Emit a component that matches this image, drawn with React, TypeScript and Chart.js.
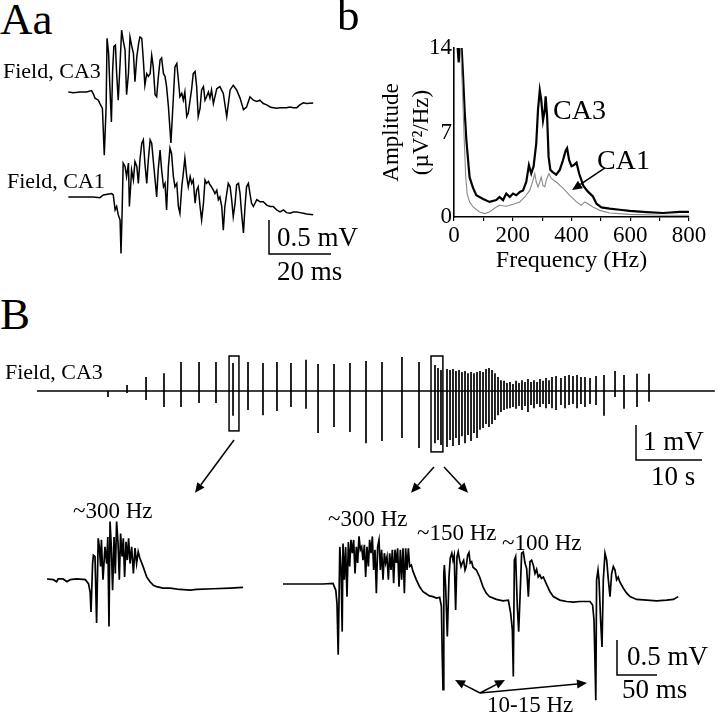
import React, { useEffect, useRef } from 'react';
import { Chart, registerables } from 'chart.js';
Chart.register(...registerables);

const SERIF = "'Liberation Serif', 'Times New Roman', 'DejaVu Serif', serif";

// ---------- Panel Aa: field traces [time ms, mV] ----------
const aaCA3: [number, number][] = [
  [0.1,0],[1.7,-0.01],[3.9,0],[6.0,0],[7.6,0.02],[8.2,-0.03],[8.7,-0.09],[9.8,-0.12],[10.3,-0.17],[11.1,-0.24],
  [11.7,-0.93],[12.3,-0.22],[12.6,0.79],[13.1,0.57],[13.5,0.08],[14.0,-0.44],[14.4,0.32],[14.8,0.67],[15.3,0.69],[15.7,0.27],
  [16.2,-0.12],[16.8,0.42],[17.3,0.91],[17.8,0.76],[18.4,0.62],[18.9,-0.04],[19.5,0.27],[20.0,0.81],[20.5,0.69],[21.1,0.57],
  [21.6,0.15],[22.2,0.52],[22.8,0.72],[23.2,0.81],[23.8,0.79],[24.3,0.47],[24.8,0.10],[25.4,0.27],[25.9,0.23],[26.5,0.27],
  [27.0,0.54],[27.5,0.37],[28.1,-0.04],[28.6,-0.07],[29.1,0.20],[29.7,0.47],[30.2,0.50],[30.8,0.27],[31.3,0.23],[31.8,0.08],
  [32.4,-0.22],[33.2,-0.75],[34.0,-0.07],[34.5,0.37],[35.1,0.42],[35.6,0.18],[36.1,-0.07],[36.7,-0.02],[37.2,-0.12],[37.7,0.0],
  [38.3,-0.36],[38.8,-0.31],[39.9,0.05],[40.4,0.27],[41.0,0.30],[41.5,0.08],[42.0,-0.36],[42.6,-0.24],[43.1,0.03],[43.7,0.08],
  [44.2,-0.12],[44.7,-0.07],[45.3,0.0],[45.8,-0.09],[46.3,0.03],[46.9,-0.17],[48.0,0.05],[49.0,0.08],[50.1,-0.02],[51.2,-0.36],
  [52.3,0.03],[53.3,0.10],[54.4,0.03],[55.5,-0.09],[56.6,-0.26],[57.6,-0.22],[58.7,-0.07],[59.8,-0.12],[60.9,-0.14],[61.9,-0.12],
  [63.0,-0.17],[64.1,-0.19],[65.2,-0.22],[66.2,-0.23],[67.3,-0.24],[68.4,-0.23],[69.5,-0.23],[70.5,-0.23],[71.6,-0.22],[72.7,-0.23],
  [73.8,-0.23],[74.8,-0.19],[75.9,-0.16],[77.0,-0.17],[79.1,-0.16]
];
const aaCA1: [number, number][] = [
  [0.1,0],[3.9,0],[8.2,0],[10.3,-0.01],[11.4,0.03],[14.1,0.05],[14.6,0.03],[15.2,-0.19],[15.7,-0.14],[16.2,-0.26],
  [16.8,-0.34],[17.1,-0.83],[17.5,-0.14],[17.8,0.50],[18.4,0.45],[18.9,0.30],[19.5,0.50],[19.8,-0.14],[20.2,0.15],[20.5,0.40],
  [21.1,0.25],[21.6,0.52],[22.2,0.45],[22.7,0.20],[23.2,0.54],[23.8,0.79],[24.3,0.84],[24.8,0.50],[25.4,0.20],[25.9,0.54],
  [26.5,0.84],[27.0,0.79],[27.5,0.54],[28.1,0.25],[28.6,0.0],[29.1,0.40],[29.7,0.69],[30.2,0.40],[30.8,0.15],[31.3,0.20],
  [31.8,-0.19],[32.4,0.45],[32.9,0.72],[33.4,0.64],[34.0,0.30],[34.5,0.15],[35.1,0.20],[35.6,-0.14],[36.1,-0.24],[36.7,0.15],
  [37.2,0.35],[37.7,0.57],[38.3,0.30],[38.8,0.15],[39.4,0.30],[39.9,0.20],[40.4,0.25],[41.0,-0.09],[41.5,0.10],[42.0,0.15],
  [42.6,-0.14],[43.1,-0.34],[43.7,-0.09],[44.2,0.25],[44.7,0.20],[45.3,0.23],[45.8,0.18],[46.3,0.15],[46.9,0.10],[47.4,0.05],
  [48.0,0.10],[48.5,-0.04],[49.0,0.0],[49.6,-0.14],[50.1,-0.49],[50.6,-0.14],[51.2,0.05],[51.7,0.20],[52.3,0.15],[52.8,-0.04],
  [53.3,-0.29],[53.9,-0.09],[54.4,0.18],[55.0,0.20],[55.5,0.05],[56.0,-0.24],[56.6,-0.53],[57.1,-0.14],[57.6,0.15],[58.2,0.20],
  [58.7,0.05],[59.2,-0.09],[59.8,-0.14],[60.9,-0.04],[61.9,-0.07],[63.0,-0.07],[64.1,-0.12],[65.2,-0.14],[66.2,-0.14],[67.3,-0.19],
  [68.4,-0.22],[69.5,-0.19],[70.5,-0.23],[71.6,-0.24],[72.7,-0.22],[73.8,-0.22],[74.8,-0.23],[75.9,-0.24],[77.0,-0.25],[79.1,-0.26]
];
const aaScaleBar = { ms: 20, mV: 0.5 };

// ---------- Panel b: amplitude spectra [Hz, uV^2/Hz] ----------
const freqTickLabels = [0, 200, 400, 600, 800];
const ampTickLabels = [0, 7, 14];
const ca3Spectrum: [number, number][] = [
  [11,14.5],[16,12.8],[20,14.5],[25,14.5],[31,11.6],[36,8.9],[42,6.4],[48,4.7],[53,3.3],[65,2.4],[76,1.8],[99,1.5],
  [121,1.25],[144,1.4],[155,1.66],[167,1.4],[178,1.94],[190,1.66],[201,1.94],[212,1.8],[224,2.08],[235,2.2],[246,2.9],
  [255,4.3],[263,3.6],[271,4.2],[280,6.1],[286,8.9],[292,10.5],[297,9.7],[303,8.0],[309,8.9],[312,10.0],[317,8.3],
  [322,5.0],[328,3.9],[337,3.7],[348,3.5],[360,3.9],[371,4.7],[380,5.5],[385,5.7],[392,4.7],[400,4.2],[408,4.3],
  [417,4.5],[426,3.6],[440,2.6],[456,2.1],[473,1.7],[485,1.1],[502,0.8],[530,0.7],[564,0.6],[598,0.5],[655,0.4],
  [712,0.33],[768,0.42],[800,0.42]
];
const ca1Spectrum: [number, number][] = [
  [11,14.5],[23,13.9],[28,11],[34,6.9],[40,3.3],[45,1.9],[53,1.25],[65,0.83],[87,0.42],[104,0.28],[121,0.42],[144,0.83],
  [155,0.97],[178,0.89],[201,1.05],[224,1.25],[241,1.66],[258,2.2],[269,3.05],[275,3.6],[280,2.9],[286,2.5],[292,2.9],
  [297,3.3],[303,2.6],[309,2.5],[314,3.05],[323,3.6],[331,3.2],[348,2.9],[371,2.4],[394,1.8],[417,1.25],[433,0.97],
  [445,1.25],[456,1.1],[473,0.83],[496,0.55],[530,0.33],[598,0.22],[712,0.14],[800,0.14]
];

// ---------- Panel B: long CA3 field record, events [time s, peak mV, trough mV] ----------
const longSpikes: [number, number, number][] = [
  [10.76,0,-0.17],[13.64,0.17,-0.06],[16.52,0.40,-0.26],[19.24,0.51,-0.46],[21.82,0.83,-0.46],[24.55,0.83,-0.34],
  [27.12,0.83,-0.34],[29.70,0.80,-0.71],[31.97,0.83,-0.54],[34.24,0.80,-0.69],[36.36,0.83,-0.57],[38.48,0.80,-0.46],
  [40.76,0.89,-0.51],[42.58,0.77,-1.20],[45.00,0.77,-1.03],[47.42,0.80,-1.17],[49.85,0.86,-1.49],[52.27,0.83,-1.43],
  [55.30,0.97,-1.34],[57.88,0.83,-1.63],[60.30,0.74,-1.49],[60.76,0.66,-1.40],[61.21,0.60,-1.54],[62.12,0.63,-1.60],
  [62.58,0.60,-1.40],[63.03,0.63,-1.57],[63.48,0.57,-1.34],[63.94,0.60,-1.54],[64.39,0.54,-1.29],[64.85,0.57,-1.49],
  [65.30,0.51,-1.26],[65.76,0.54,-1.43],[66.21,0.51,-1.20],[66.67,0.54,-1.34],[67.12,0.57,-1.11],[67.58,0.54,-1.06],
  [68.03,0.63,-0.94],[68.48,0.66,-1.03],[68.94,0.60,-0.94],[69.39,0.51,-0.83],[69.85,0.40,-0.69],[70.30,0.31,-0.60],
  [70.76,0.29,-0.54],[71.21,0.23,-0.51],[71.67,0.26,-0.49],[72.12,0.20,-0.46],[72.58,0.29,-0.51],[73.03,0.23,-0.43],
  [73.48,0.31,-0.54],[73.94,0.26,-0.43],[74.39,0.34,-0.60],[74.85,0.26,-0.40],[75.30,0.31,-0.49],[75.76,0.26,-0.37],
  [76.21,0.34,-0.46],[76.67,0.29,-0.37],[77.12,0.37,-0.49],[77.58,0.31,-0.37],[78.03,0.40,-0.49],[78.64,0.43,-0.54],
  [79.39,0.37,-0.40],[80.00,0.43,-0.49],[80.61,0.46,-0.40],[81.21,0.43,-0.37],[81.82,0.46,-0.49],[82.42,0.40,-0.37],
  [83.03,0.40,-0.46],[83.79,0.37,-0.37],[84.70,0.43,-0.40],[85.91,0.46,-0.71],[87.58,0.57,-0.17],[88.94,0.46,-0.51],
  [90.91,0.49,-0.46],[92.73,0.49,-0.31]
];
const longRecordEnd = 102.7; // s
const longScaleBar = { s: 10, mV: 1 };

// ---------- Panel B insets [time ms, mV] ----------
const insetFirst: [number, number][] = [
  [0,0],[8,-0.01],[12,-0.04],[14,0],[20,0],[25,-0.04],[29,-0.01],[37,0],[48,-0.01],[52,-0.07],[54,-0.2],[55,-0.47],
  [57,0.22],[58,0.34],[60,0.32],[62,-0.63],[64,0.58],[65.4,0.46],[67,0.18],[68,0.56],[70,-0.01],[72.5,0.46],[74.6,0.22],
  [76,0.60],[77.5,-0.68],[78.8,0.82],[80.4,0.46],[82,-0.16],[83.8,0.60],[85.4,0.08],[87,0.82],[88.8,0.51],[90.4,-0.01],
  [92,0.65],[93.8,0.32],[95.4,0.58],[97,0.03],[98.8,0.53],[100.4,0.27],[102,0.58],[103.8,0.22],[105.8,0.46],[108,0.08],
  [110,0.44],[112,0.22],[114,0.39],[116,0.30],[120,0.18],[124.6,0.03],[128.8,-0.04],[133,-0.09],[137,-0.11],[145,-0.13],
  [154,-0.13],[166,-0.15],[179,-0.16],[187,-0.15],[208,-0.14],[229,-0.13],[245,-0.12]
];
const insetSecond: [number, number][] = [
  [0,0],[16.7,0],[33,0],[50,0],[62.5,0.01],[66,-0.09],[67.5,-0.28],[69,-1.01],[71,0.53],[72.5,0.25],[74,-0.68],[75,0.58],
  [76.7,0.06],[78.3,0.53],[80,-0.18],[81.7,0.60],[83.3,0.25],[85,0.63],[86.7,0.44],[88.3,0.63],[90,0.15],[91.7,0.53],
  [93.3,0.30],[95,0.68],[96.7,0.49],[98.3,0.53],[100,0.34],[101.7,0.56],[103.3,0.10],[105,0.53],[106.7,0.25],[108.3,0.63],
  [110,0.44],[111.7,0.68],[113.3,0.2],[115,0.49],[116.7,-0.13],[118.3,0.53],[120,0.63],[121.7,0.2],[123.3,0.49],[125,0.06],
  [126.7,0.44],[128.3,0.30],[130,0.39],[131.7,0.06],[133.3,0.44],[135,0.2],[136.7,0.49],[138.3,0.01],[140,0.49],[141.7,0.30],
  [143.3,0.51],[145,-0.04],[146.7,0.49],[148.3,0.06],[150,0.51],[151.7,-0.13],[153.3,0.51],[155,0.2],[156.7,0.51],[158.3,0.25],
  [160.4,0.27],[162.5,0.18],[166.7,0.06],[170.8,-0.04],[175,-0.11],[179,-0.14],[183,-0.17],[187.5,-0.18],[191.7,-0.2],
  [195.8,-0.19],[198,-0.32],[199,-0.99],[200,-1.51],[201,0.15],[201.7,0.27],[203.3,-0.04],[205.4,-0.75],[207.5,0.10],
  [209,0.37],[211,0.44],[212.5,0.34],[214,0.41],[215.8,-0.37],[217.5,0.39],[219,0.46],[220.8,0.34],[222.5,0.25],[224,0.30],
  [225.8,0.34],[227.5,0.2],[229,0.25],[230.8,0.41],[232.5,0.45],[234,0.30],[235.8,0.32],[237.5,0.24],[241.7,0.2],[245.8,0.1],
  [250,-0.04],[254,-0.13],[258,-0.18],[266.7,-0.22],[275,-0.24],[281.7,-0.23],[284.6,-0.42],[286.7,-0.66],[287.9,-1.32],
  [289.2,0.34],[290.8,0.39],[292.9,-0.32],[294.6,-0.68],[296.3,-0.18],[298.3,0.44],[300.4,0.46],[302.5,0.30],[304.6,0.22],
  [306.7,-0.18],[308.75,0.32],[310.8,0.34],[312.9,0.27],[315,0.15],[317,0.21],[319,0.10],[321,0.13],[323,0.08],[325.4,0.10],
  [329.6,-0.01],[333.75,-0.11],[337.9,-0.18],[346,-0.23],[354.6,-0.25],[363,-0.26],[371,-0.25],[379.6,-0.25],[383.75,-0.25],
  [387,-0.3],[388.75,-0.51],[390,-1.13],[391,-1.66],[392,0.06],[393.75,0.2],[395,0.06],[397,-0.51],[398.75,-0.9],[400.4,0.06],
  [402.5,0.44],[404.6,0.34],[406.7,0.06],[408.75,-0.18],[410.8,0.15],[412.9,0.25],[415,0.2],[417,0.06],[419,0.1],[421,0.03],
  [425.4,-0.06],[429.6,-0.13],[433.75,-0.18],[442,-0.22],[454.6,-0.23],[467,-0.24],[479.6,-0.23],[488,-0.22],[494,-0.18]
];
const insetScaleBar = { ms: 50, mV: 0.5 };

// ---------- helpers ----------
type Pt = [number, number];
const toXY = (pts: Pt[], dy = 0) => pts.map(([x, y]) => ({ x, y: y + dy }));

function lineDs(data: { x: number; y: number }[], width = 1.5, color = '#000') {
  return { data, borderColor: color, borderWidth: width, pointRadius: 0, tension: 0, fill: false, clip: false as any };
}

function scaleBarDs(x0: number, y0: number, w: number, h: number) {
  return lineDs([{ x: x0, y: y0 + h }, { x: x0, y: y0 }, { x: x0 + w, y: y0 }], 1.5);
}

type Arrow = { from: Pt; to: Pt };
type Rect = { x0: number; y0: number; x1: number; y1: number };

function annotPlugin(arrows: Arrow[], rects: Rect[]) {
  return {
    id: 'annot',
    afterDatasetsDraw(chart: any) {
      const ctx = chart.ctx;
      const sx = chart.scales.x, sy = chart.scales.y;
      ctx.save();
      ctx.strokeStyle = '#000';
      ctx.fillStyle = '#000';
      ctx.lineWidth = 1.5;
      for (const r of rects) {
        const a = sx.getPixelForValue(r.x0), b = sx.getPixelForValue(r.x1);
        const c = sy.getPixelForValue(r.y0), d = sy.getPixelForValue(r.y1);
        ctx.strokeRect(a, c, b - a, d - c);
      }
      for (const ar of arrows) {
        const x0 = sx.getPixelForValue(ar.from[0]), y0 = sy.getPixelForValue(ar.from[1]);
        const x1 = sx.getPixelForValue(ar.to[0]), y1 = sy.getPixelForValue(ar.to[1]);
        const ang = Math.atan2(y1 - y0, x1 - x0);
        const L = 10, W = 4.5;
        const bx = x1 - L * Math.cos(ang), by = y1 - L * Math.sin(ang);
        ctx.beginPath();
        ctx.moveTo(x0, y0);
        ctx.lineTo(bx, by);
        ctx.stroke();
        ctx.beginPath();
        ctx.moveTo(x1, y1);
        ctx.lineTo(bx + W * Math.sin(ang), by - W * Math.cos(ang));
        ctx.lineTo(bx - W * Math.sin(ang), by + W * Math.cos(ang));
        ctx.closePath();
        ctx.fill();
      }
      ctx.restore();
    },
  };
}

function hiddenOptions(xmin: number, xmax: number, ymin: number, ymax: number) {
  return {
    responsive: false,
    animation: false as const,
    devicePixelRatio: 1,
    events: [] as any[],
    layout: { padding: 0 },
    plugins: { legend: { display: false }, tooltip: { enabled: false } },
    scales: {
      x: { type: 'linear' as const, display: false, min: xmin, max: xmax },
      y: { type: 'linear' as const, display: false, min: ymin, max: ymax },
    },
  };
}

// ---------- chart configs ----------
function panelAaConfig() {
  const ca1Offset = -1.544;
  return {
    type: 'line' as const,
    data: {
      datasets: [
        lineDs(toXY(aaCA3), 1.5),
        lineDs(toXY(aaCA1, ca1Offset), 1.5),
        scaleBarDs(64.84, -2.382, aaScaleBar.ms, aaScaleBar.mV),
      ],
    },
    options: hiddenOptions(-2.58, 97.42, -2.912, 1.059),
  };
}

function panelBSpecConfig() {
  const f = { family: SERIF, size: 23 };
  return {
    type: 'line' as const,
    data: {
      datasets: [
        { ...lineDs(toXY(ca1Spectrum), 1.1, '#8a8a8a'), clip: 0 },
        { ...lineDs(toXY(ca3Spectrum), 2.2, '#000'), clip: 0 },
      ],
    },
    options: {
      responsive: false,
      animation: false as const,
      devicePixelRatio: 1,
      events: [] as any[],
      layout: { padding: { left: 0, top: 20, right: 31, bottom: 0 } },
      plugins: { legend: { display: false }, tooltip: { enabled: false } },
      scales: {
        x: {
          type: 'linear' as const,
          min: 0,
          max: 800,
          ticks: {
            stepSize: 100,
            autoSkip: false,
            maxRotation: 0,
            color: '#000',
            font: f,
            padding: 1,
            callback: (v: any) => (freqTickLabels.includes(Number(v)) ? String(v) : ''),
          },
          grid: { display: true, drawOnChartArea: false, drawTicks: true, tickLength: 4, color: '#000', lineWidth: 1.2 },
          border: { display: true, color: '#000', width: 1.6 },
          title: { display: true, text: 'Frequency (Hz)', color: '#000', font: { family: SERIF, size: 24 }, padding: { top: 0, bottom: 15 } },
          afterFit: (s: any) => { s.height = 73; },
        },
        y: {
          type: 'linear' as const,
          min: 0,
          max: 14,
          afterBuildTicks: (s: any) => { s.ticks = ampTickLabels.map((v) => ({ value: v })); },
          ticks: { color: '#000', font: f, padding: 2 },
          grid: { display: true, drawOnChartArea: false, drawTicks: false, color: '#000' },
          border: { display: true, color: '#000', width: 1.6 },
          title: {
            display: true,
            text: ['Amplitude', '(\u00b5V\u00b2/Hz)'],
            color: '#000',
            font: { family: SERIF, size: 23, lineHeight: 1.3 },
            padding: { top: 7, bottom: 0 },
          },
          afterFit: (s: any) => { s.width = 84; },
        },
      },
    },
    plugins: [annotPlugin([{ from: [514, 4.06], to: [402, 2.24] }], [])],
  };
}

function longRecordConfig() {
  const pts: { x: number; y: number }[] = [{ x: 0, y: 0 }];
  for (const [t, up, down] of longSpikes) {
    pts.push({ x: t, y: 0 }, { x: t, y: up }, { x: t, y: down }, { x: t, y: 0 });
  }
  pts.push({ x: longRecordEnd, y: 0 });
  return {
    type: 'line' as const,
    data: {
      datasets: [
        lineDs(pts, 1.7),
        scaleBarDs(90.76, -1.97, longScaleBar.s, longScaleBar.mV),
      ],
    },
    options: hiddenOptions(-5.606, 103.485, -3.114, 1.457),
    plugins: [
      annotPlugin(
        [
          { from: [29.85, -1.4], to: [23.94, -2.91] },
          { from: [60.15, -2.17], to: [56.67, -2.91] },
          { from: [61.67, -2.17], to: [65.3, -2.91] },
        ],
        [
          { x0: 29.1, y0: 1.0, x1: 30.6, y1: -1.14 },
          { x0: 59.7, y0: 1.0, x1: 61.5, y1: -1.74 },
        ]
      ),
    ],
  };
}

function insetFirstConfig() {
  return {
    type: 'line' as const,
    data: { datasets: [lineDs(toXY(insetFirst), 1.7)] },
    options: hiddenOptions(-21.25, 278.75, -1.929, 1.271),
  };
}

function insetSecondConfig() {
  return {
    type: 'line' as const,
    data: {
      datasets: [
        lineDs(toXY(insetSecond), 1.7),
        scaleBarDs(417.5, -1.3, insetScaleBar.ms, insetScaleBar.mV),
      ],
    },
    options: hiddenOptions(-16.25, 546.25, -1.857, 1.343),
    plugins: [
      annotPlugin(
        [
          { from: [246.25, -1.557], to: [215, -1.371] },
          { from: [246.25, -1.557], to: [277.5, -1.371] },
          { from: [246.25, -1.557], to: [380, -1.414] },
        ],
        []
      ),
    ],
  };
}

// ---------- components ----------
function ChartCanvas({ left, top, width, height, make }: { left: number; top: number; width: number; height: number; make: () => any }) {
  const ref = useRef<HTMLCanvasElement | null>(null);
  useEffect(() => {
    if (!ref.current) return;
    const chart = new Chart(ref.current, make());
    return () => chart.destroy();
  }, []);
  return (
    <div style={{ position: 'absolute', left, top, width, height }}>
      <canvas ref={ref} width={width} height={height} style={{ width, height, display: 'block' }} />
    </div>
  );
}

function Label({ text, left, top, size }: { text: string; left: number; top: number; size: number }) {
  return (
    <div
      style={{
        position: 'absolute',
        left,
        top,
        fontFamily: SERIF,
        fontSize: size,
        lineHeight: 1,
        whiteSpace: 'nowrap',
        color: '#000',
        pointerEvents: 'none',
      }}
    >
      {text}
    </div>
  );
}

export default function App() {
  return (
    <div style={{ position: 'absolute', left: 0, top: 0, width: 720, height: 714, background: '#fff', overflow: 'hidden' }}>
      <ChartCanvas left={60} top={20} width={310} height={270} make={panelAaConfig} />
      <ChartCanvas left={370} top={28} width={350} height={262} make={panelBSpecConfig} />
      <ChartCanvas left={0} top={340} width={720} height={160} make={longRecordConfig} />
      <ChartCanvas left={30} top={490} width={240} height={224} make={insetFirstConfig} />
      <ChartCanvas left={270} top={490} width={450} height={224} make={insetSecondConfig} />

      <Label text="Aa" left={0} top={-3} size={45} />
      <Label text="b" left={337} top={-7} size={45} />
      <Label text="B" left={0} top={292} size={45} />

      <Label text="Field, CA3" left={3} top={60} size={22} />
      <Label text="Field, CA1" left={7} top={170} size={22} />
      <Label text="0.5 mV" left={277} top={224} size={27} />
      <Label text="20 ms" left={277} top={258} size={27} />

      <Label text="CA3" left={553} top={96} size={28} />
      <Label text="CA1" left={597} top={146} size={28} />

      <Label text="Field, CA3" left={5} top={361} size={22} />
      <Label text="1 mV" left={643} top={428} size={27} />
      <Label text="10 s" left={651} top={463} size={27} />

      <Label text="~300 Hz" left={73} top={499} size={23} />
      <Label text="~300 Hz" left={328} top={507} size={23} />
      <Label text="~150 Hz" left={417} top={521} size={23} />
      <Label text="~100 Hz" left={502} top={531} size={23} />
      <Label text="0.5 mV" left={627} top={643} size={27} />
      <Label text="50 ms" left={622} top={676} size={27} />
      <Label text="10-15 Hz" left={487} top={693} size={23} />
    </div>
  );
}
